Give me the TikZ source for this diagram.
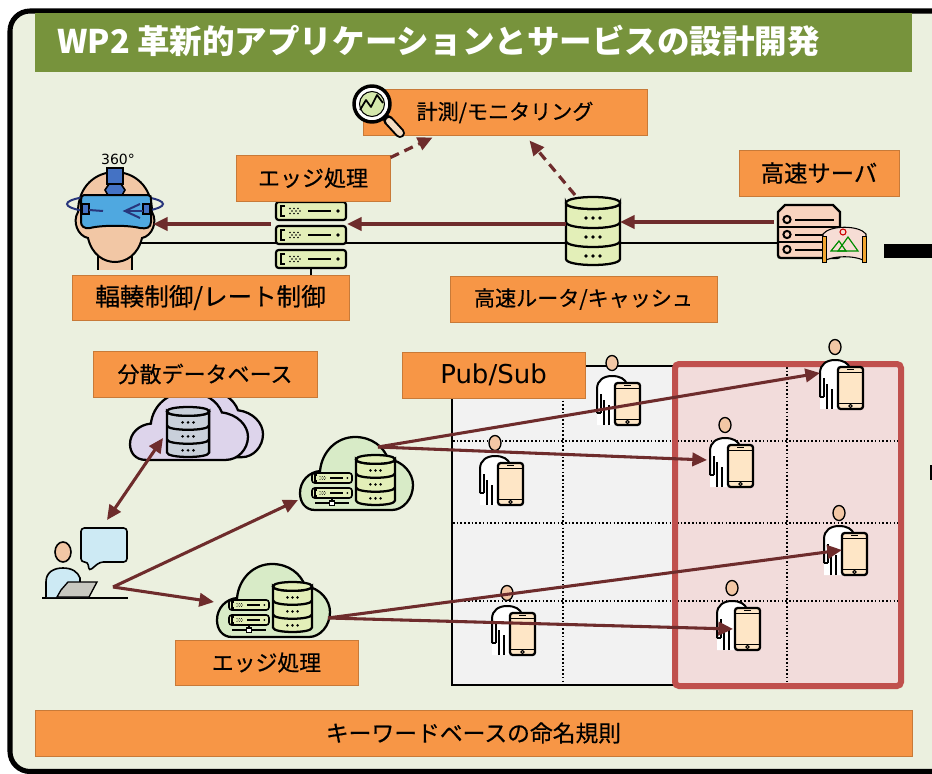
\documentclass[tikz,border=0pt]{standalone}
\usepackage{fontspec}
\newfontfamily\jp{Noto Sans CJK JP}
\newfontfamily\jpm{Noto Sans CJK JP}[FakeBold=0.4]
\newfontfamily\lat{DejaVu Sans}
\usetikzlibrary{arrows.meta,calc}

\definecolor{bg}{HTML}{EBF0DF}
\definecolor{titlegreen}{HTML}{77933C}
\definecolor{boxfill}{HTML}{F79646}
\definecolor{boxedge}{HTML}{C87A38}
\definecolor{arrowc}{HTML}{6E2C2C}
\definecolor{rackfill}{HTML}{E3EFB8}
\definecolor{cloudgreen}{HTML}{D8EBC7}
\definecolor{cloudpurple}{HTML}{DDD4EB}
\definecolor{dbgray}{HTML}{C9D0DA}
\definecolor{skin}{HTML}{F2C7A5}
\definecolor{goggle}{HTML}{4FA8E0}
\definecolor{strapblue}{HTML}{4472C4}
\definecolor{navy}{HTML}{28367C}
\definecolor{srvfill}{HTML}{F8D3BF}
\definecolor{screenfill}{HTML}{F6DDD5}
\definecolor{screenedge}{HTML}{F2A530}
\definecolor{phonefill}{HTML}{FEE6C6}
\definecolor{gridgray}{HTML}{F2F2F2}
\definecolor{pinkfill}{HTML}{F2DCDB}
\definecolor{pinkedge}{HTML}{C0504D}
\definecolor{ltblue}{HTML}{CDEAF4}
\definecolor{laptopgray}{HTML}{C8C8C0}
\definecolor{lensgreen}{HTML}{D5E8AC}
\definecolor{handlefill}{HTML}{F3DCC2}

\tikzset{
  lbl/.style={draw=boxedge, fill=boxfill, line width=0.75pt, inner sep=0pt,
    text=black, font=\jpm\fontsize{#1pt}{#1pt}\selectfont},
  lbl/.default=16.5,
  flow/.style={draw=arrowc, line width=2.3pt, -{Triangle[length=11pt,width=10pt]}},
  flow2/.style={draw=arrowc, line width=2.3pt, {Triangle[length=11pt,width=10pt]}-{Triangle[length=11pt,width=10pt]}},
  dashflow/.style={draw=arrowc, line width=2.4pt, dash pattern=on 7pt off 4.5pt,
    -{Triangle[length=11pt,width=10pt]}},
  gridline/.style={line width=1.2pt, dash pattern=on 1.2pt off 1.6pt},
  % one unit of a rack, 70 x 18
  pics/rackunit/.style={code={
    \draw[fill=rackfill, line width=#1, rounded corners=2pt] (0,0) rectangle (70,18);
    \draw[line width=1.1pt] (9,4) -- (5,4) -- (5,14) -- (9,14);
    \foreach \px/\py in {14/6.5,18/6.5,22/6.5,16/9,20/9,24/9,14/11.5,18/11.5,22/11.5}
      \fill (\px,\py) circle (0.9);
    \draw[line width=1.4pt] (32,9) -- (55,9);
    \fill (62,9) circle (1.8);
  }},
  pics/rackunit/.default=1.6pt,
  % database cylinder, 54 x 68
  pics/dbc/.style={code={
    \draw[fill=#1, line width=1.7pt] (0,6) -- (0,62) .. controls (0,70) and (54,70) .. (54,62)
      -- (54,6) .. controls (54,14) and (0,14) .. (0,6) -- cycle;
    \draw[fill=#1, line width=1.7pt] (0,6) .. controls (0,-2) and (54,-2) .. (54,6)
      .. controls (54,14) and (0,14) .. (0,6) -- cycle;
    \draw[line width=1.7pt] (0,25) .. controls (0,33) and (54,33) .. (54,25);
    \draw[line width=1.7pt] (0,44) .. controls (0,52) and (54,52) .. (54,44);
    \foreach \dy in {21,40,59} \foreach \dx in {20,27,34} \fill (\dx,\dy) circle (1.9);
  }},
  % cloud outline, 113 x 73
  pics/cloudshape/.style={code={
    \draw[fill=#1, line width=1.7pt] (15,73) .. controls (5,73) and (0,65) .. (0,56)
      .. controls (0,44) and (9,35) .. (20,34) .. controls (22,14) and (37,0) .. (55,0)
      .. controls (72,0) and (84,10) .. (88,22) .. controls (103,24) and (113,36) .. (113,48)
      .. controls (113,62) and (103,73) .. (92,73) -- cycle;
  }},
  % edge cloud: servers and a database in a green cloud
  pics/edgecloud/.style={code={
    \pic {cloudshape=cloudgreen};
    \pic[xscale=0.571, yscale=0.556] at (12,36) {rackunit=1.2pt};
    \pic[xscale=0.571, yscale=0.556] at (12,51) {rackunit=1.2pt};
    \draw[line width=1pt] (15,66) -- (49,66);
    \draw[line width=1pt] (32,61) -- (32,64);
    \draw[line width=0.9pt, fill=white] (29.5,64) rectangle (34.5,68.5);
    \pic[xscale=0.722, yscale=0.735] at (56,18) {dbc=rackfill};
  }},
  % person holding a phone, origin at the head
  pics/user/.style={code={
    \path[fill=white] (-15,62) -- (-15,26) .. controls (-15,17) and (-8,13) .. (0,13)
      .. controls (8,13) and (14,16) .. (16,22) -- (16,62) -- cycle;
    \draw[line width=1.5pt] (-15,50) -- (-15,26) .. controls (-15,17) and (-8,13) .. (0,13)
      .. controls (8,13) and (13,16) .. (15,21);
    \draw[line width=1.5pt] (-11,50) -- (-11,31);
    \draw[line width=1.5pt] (-15,50) -- (-11,50);
    \draw[line width=1.5pt] (-8,62) -- (-8,37);
    \draw[line width=1.5pt] (-3,62) -- (-3,42);
    \draw[fill=skin, line width=1pt] (0,0) ellipse [x radius=6, y radius=7.5];
    \draw[fill=phonefill, line width=1.7pt, rounded corners=2pt] (3,20) rectangle (28,62);
    \draw[line width=0.7pt] (3,25) -- (28,25);
    \draw[line width=0.7pt] (3,56) -- (28,56);
    \draw[line width=1pt] (12,22.5) -- (19,22.5);
    \draw[line width=0.8pt] (15.5,59) circle (1.6);
  }},
}

\begin{document}
\begin{tikzpicture}[x=0.75pt, y=-0.75pt]
\useasboundingbox (0,0) rectangle (932,774);
\clip (0,0) rectangle (932,774);
\fill[white] (0,0) rectangle (932,774);

% slide frame
\draw[line width=3.8pt, fill=bg, rounded corners=15pt] (10,11) rectangle (1010,771.5);

% title bar
\fill[titlegreen] (35,13) rectangle (912,72);
\node[anchor=west, inner sep=0pt, text=white, font=\jp\bfseries\fontsize{24.4pt}{28pt}\selectfont]
  (title) at (57,41) {WP2 革新的アプリケーションとサービスの設計開発};

% ---------- upper delivery path ----------
\draw[line width=1.3pt] (130,243) -- (778,243);
\draw[line width=1.3pt] (311,265) -- (311,276);

% VR viewer
\fill[skin] (98,240) rectangle (132,270);
\draw[line width=1.5pt] (98,245) -- (98,270);
\draw[line width=1.5pt] (132,245) -- (132,270);
\draw[fill=skin, line width=1.5pt] (78,212) .. controls (78,186) and (96,172) .. (115,172)
  .. controls (134,172) and (152,186) .. (152,212) .. controls (158,222) and (152,236) .. (142,238)
  .. controls (138,255) and (126,262) .. (115,262) .. controls (104,262) and (92,255) .. (88,238)
  .. controls (78,236) and (72,222) .. (78,212) -- cycle;
\draw[fill=strapblue, line width=1.2pt] (107,168) rectangle (123,184);
\draw[fill=strapblue, line width=1.2pt] (105,190) -- (109,184) -- (121,184) -- (125,190)
  -- (121,197) -- (109,197) -- cycle;
\draw[navy, line width=1.5pt] (115,204) ellipse [x radius=48, y radius=9];
\draw[fill=goggle, line width=1.5pt] (84,195) -- (148,195) .. controls (151,195) and (151,197) .. (151,200)
  -- (151,222) .. controls (151,228) and (146,229) .. (140,228) .. controls (128,225) and (102,225) .. (90,228)
  .. controls (84,229) and (81,226) .. (81,222) -- (81,200) .. controls (81,197) and (82,195) .. (84,195) -- cycle;
\draw[fill=strapblue, line width=1pt] (82,204) rectangle (89,214);
\draw[fill=strapblue, line width=1pt] (143,204) rectangle (150,214);
\draw[navy, line width=1.5pt] (89,210) -- (103,211);
\draw[navy, line width=1.5pt] (140,204) -- (125,211) -- (140,218);
\draw[navy, line width=1.5pt] (125,211) -- (143,211);
\node[inner sep=0pt, font=\lat\fontsize{10.5pt}{12pt}\selectfont] (deg) at (118,159) {360°};

% edge rack
\pic at (276,202) {rackunit};
\pic at (276,226) {rackunit};
\pic at (276,250) {rackunit};

% router / cache
\pic at (566,197) {dbc=rackfill};

% high-speed server with a 360-degree screen
\draw[fill=srvfill, line width=1.7pt] (785,205) -- (833,205) -- (840,212) -- (840,255)
  .. controls (840,257) and (839,258) .. (837,258) -- (781,258) .. controls (779,258) and (778,257) .. (778,255)
  -- (778,212) -- cycle;
\draw[line width=1.5pt] (778,227) -- (840,227);
\draw[line width=1.5pt] (778,242) -- (840,242);
\foreach \ry in {219.5,234.5,249.5} {
  \draw[line width=1.5pt] (787,\ry) circle (3.6);
  \draw[line width=1.5pt] (795,\ry) -- (834,\ry);
}
\draw[fill=screenfill, line width=0.8pt] (823,234) .. controls (830,225) and (859,225) .. (866,234)
  -- (866,262) .. controls (858,255) and (831,255) .. (823,262) -- cycle;
\fill[screenedge] (822,236) rectangle (826.5,262);
\fill[screenedge] (862,236) rectangle (866.5,262);
\draw[line width=0.6pt] (822,236) rectangle (826.5,262);
\draw[line width=0.6pt] (862,236) rectangle (866.5,262);
\draw[green!55!black, line width=0.9pt] (831,251) -- (839,241) -- (846,251) -- cycle;
\draw[green!55!black, line width=0.9pt] (838,251) -- (848,237) -- (858,251) -- cycle;
\draw[red!80!black, line width=0.8pt] (843,232) circle (3);

% labels of the upper path
\node[lbl=15.8, minimum width=213pt, minimum height=33.75pt] (mon) at (505,112.5) {計測/モニタリング};
\node[lbl=16.5, minimum width=115.5pt, minimum height=34.5pt] (edgeT) at (313,178) {エッジ処理};
\node[lbl=17.5, minimum width=120pt, minimum height=34.5pt] (srvlbl) at (819,173) {高速サーバ};
\node[lbl=18.4, minimum width=207.75pt, minimum height=33.75pt] (ctrl) at (210.5,297.5) {輻輳制御/レート制御};
\node[lbl=15.8, minimum width=200.25pt, minimum height=34.5pt] (rtr) at (583.5,299) {高速ルータ/キャッシュ};

% magnifier
\draw[line cap=round, line width=7.5pt] (388,120) -- (400,133);
\draw[line cap=round, line width=4.5pt, handlefill] (389,121) -- (400,133);
\draw[line width=2.6pt, fill=white] (372,104) circle (18);
\draw[line width=0.8pt, fill=lensgreen] (372,104) circle (12.5);
\draw[line width=1.3pt, line join=round] (360,110) -- (366,100) -- (371,107) -- (377,95) -- (383,103);

% connection points of the icons
\coordinate (srv-w) at (774,222);
\coordinate (db-e)  at (620,222);
\coordinate (db-w)  at (566,224);
\coordinate (db-n)  at (575,195);
\coordinate (rack-e) at (347,224);
\coordinate (rack-w) at (271,224);
\coordinate (vr-e)  at (153,224);

\draw[flow] (srv-w) -- (db-e);
\draw[flow] (db-w) -- (rack-e);
\draw[flow] (rack-w) -- (vr-e);
\draw[dashflow] ($(edgeT.north east)+(0,3)$) -- ($(mon.south west)+(70,2)$);
\draw[dashflow] (db-n) -- ($(mon.south west)+(167,5)$);

% continuation marks at the right edge
\fill (884,244) rectangle (940,258);
\fill (930,465) rectangle (940,480);

% ---------- publish / subscribe area ----------
\draw[fill=gridgray, line width=1.5pt] (452,366) rectangle (675,685);
\fill[pinkfill] (675,364) rectangle (901,686);
\foreach \gx in {563,677,787} \draw[gridline] (\gx,367) -- (\gx,684);
\foreach \gy in {441,523,601} \draw[gridline] (453,\gy) -- (899,\gy);
\draw[pinkedge, line width=4.5pt, rounded corners=3pt] (675,364) rectangle (901,686);

\pic at (612,363) {user};
\pic at (495,443) {user};
\pic at (725,425) {user};
\pic at (835,347) {user};
\pic at (839,513) {user};
\pic at (507,593) {user};
\pic at (732,588) {user};

% ---------- lower-left: clients and clouds ----------
\pic[xscale=1.0, yscale=0.92] at (150,390) {cloudshape=cloudpurple};
\pic[xscale=1.044, yscale=0.93] at (130,392) {cloudshape=cloudpurple};
\pic[xscale=0.78, yscale=0.735] at (167,407) {dbc=dbgray};

\pic at (300,437) {edgecloud};
\pic at (217,564) {edgecloud};

% person at a laptop with a speech bubble
\draw[line width=1.2pt] (42,598) -- (128,598);
\draw[fill=ltblue, line width=1.2pt] (46,597) -- (46,582) .. controls (46,572) and (54,568) .. (63,568)
  .. controls (72,568) and (78,572) .. (80,578) -- (80,597);
\draw[fill=skin, line width=1.2pt] (63,552) ellipse [x radius=8, y radius=10];
\draw[fill=laptopgray, line width=1pt] (68,582) -- (97,582) -- (89,597) -- (57,597) -- (61,590) -- cycle;
\draw[fill=ltblue, line width=1.2pt, rounded corners=2.5pt] (81,528) -- (127,528) -- (127,562)
  -- (100,562) -- (89,571) -- (88,562) -- (81,562) -- cycle;

% labels of the lower area
\node[lbl=16.5, minimum width=168pt, minimum height=34.5pt] (ddb) at (205,374) {分散データベース};
\node[lbl, minimum width=137.25pt, minimum height=34.5pt, font=\lat\fontsize{19.5pt}{22pt}\selectfont]
  (pub) at (493.5,375) {Pub/Sub};
\node[lbl=16.4, minimum width=137.25pt, minimum height=33.75pt] (edgeB) at (266.5,662.5) {エッジ処理};

% connection points
\coordinate (pc)  at (113,587);
\coordinate (pc-n) at (107,520);
\coordinate (ddb-c) at (163,438);
\coordinate (ec1-w) at (298,500);
\coordinate (ec1-e) at (378,447);
\coordinate (ec2-w) at (214,602);
\coordinate (ec2-e) at (328,618);
\coordinate (u4) at (820,373);
\coordinate (u3) at (707,460);
\coordinate (u5) at (842,550);
\coordinate (u7) at (733,629);

\draw[flow2] (pc-n) -- (ddb-c);
\draw[flow] (pc) -- (ec1-w);
\draw[flow] (pc) -- (ec2-w);
\draw[flow] (ec1-e) -- (u4);
\draw[flow] (ec1-e) -- (u3);
\draw[flow] (ec2-e) -- (u5);
\draw[flow] (ec2-e) -- (u7);

% naming rule bar
\node[lbl=17.1, minimum width=657.75pt, minimum height=34.5pt] (kw) at (473.5,733) {キーワードベースの命名規則};
\end{tikzpicture}
\end{document}
